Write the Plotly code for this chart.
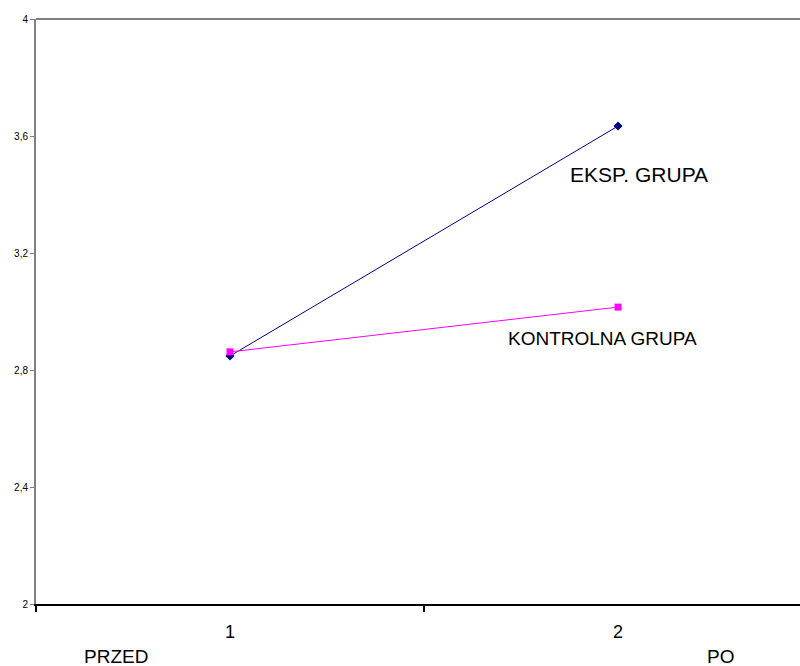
import plotly.graph_objects as go

# Measurement points (1 = before, 2 = after)
points = [1, 2]
eksp_grupa = [2.848, 3.634]
kontrolna_grupa = [2.862, 3.015]

y_ticks = [2, 2.4, 2.8, 3.2, 3.6, 4]
y_tick_labels = ["2", "2,4", "2,8", "3,2", "3,6", "4"]
x_tick_labels = ["1", "2"]

font_family = "Liberation Sans, Arial, sans-serif"

fig = go.Figure()

fig.add_trace(go.Scatter(
    x=points, y=eksp_grupa, mode="lines+markers",
    line=dict(color="#000080", width=1),
    marker=dict(symbol="diamond", size=7, color="#000080"),
    name="EKSP. GRUPA", showlegend=False,
))
fig.add_trace(go.Scatter(
    x=points, y=kontrolna_grupa, mode="lines+markers",
    line=dict(color="#FF00FF", width=1),
    marker=dict(symbol="square", size=7, color="#FF00FF"),
    name="KONTROLNA GRUPA", showlegend=False,
))

# Plot area in pixels
left, top, bottom = 36, 19, 62
plot_w = 800 - left
plot_h = 666 - top - bottom


def px_x(px):
    return (px - left) / plot_w


def px_y(py):
    return (666 - bottom - py) / plot_h


fig.update_layout(
    width=800, height=666,
    margin=dict(l=left, r=0, t=top, b=bottom),
    paper_bgcolor="white", plot_bgcolor="white",
    font=dict(family=font_family, color="black"),
    separators=",.",
    xaxis=dict(
        range=[0.5, 2.469], showgrid=False, zeroline=False,
        showline=True, linecolor="black", linewidth=2,
        tickvals=points, ticktext=x_tick_labels,
        ticks="", tickfont=dict(size=18), ticklabelstandoff=10,
        minor=dict(tick0=0.5, dtick=1, ticks="outside", ticklen=6,
                   tickcolor="black", tickwidth=1.5, showgrid=False),
    ),
    yaxis=dict(
        range=[2, 4], showgrid=False, zeroline=False,
        showline=True, linecolor="#808080", linewidth=2,
        tickvals=y_ticks, ticktext=y_tick_labels,
        ticks="outside", ticklen=4, tickcolor="#808080", tickwidth=1,
        tickfont=dict(size=10),
    ),
    shapes=[dict(type="line", xref="paper", yref="paper", x0=0, x1=1, y0=1, y1=1,
                 line=dict(color="#808080", width=2))],
    annotations=[
        dict(text="EKSP. GRUPA", x=2.055, y=3.467, xref="x", yref="y",
             xanchor="center", showarrow=False, font=dict(size=21)),
        dict(text="KONTROLNA GRUPA", x=1.96, y=2.907, xref="x", yref="y",
             xanchor="center", showarrow=False, font=dict(size=19)),
        dict(text="PRZED", x=px_x(116), y=px_y(656), xref="paper", yref="paper",
             xanchor="center", yanchor="middle", showarrow=False, font=dict(size=19)),
        dict(text="PO", x=px_x(720), y=px_y(656), xref="paper", yref="paper",
             xanchor="center", yanchor="middle", showarrow=False, font=dict(size=19)),
    ],
)

fig.write_html("out.html")
